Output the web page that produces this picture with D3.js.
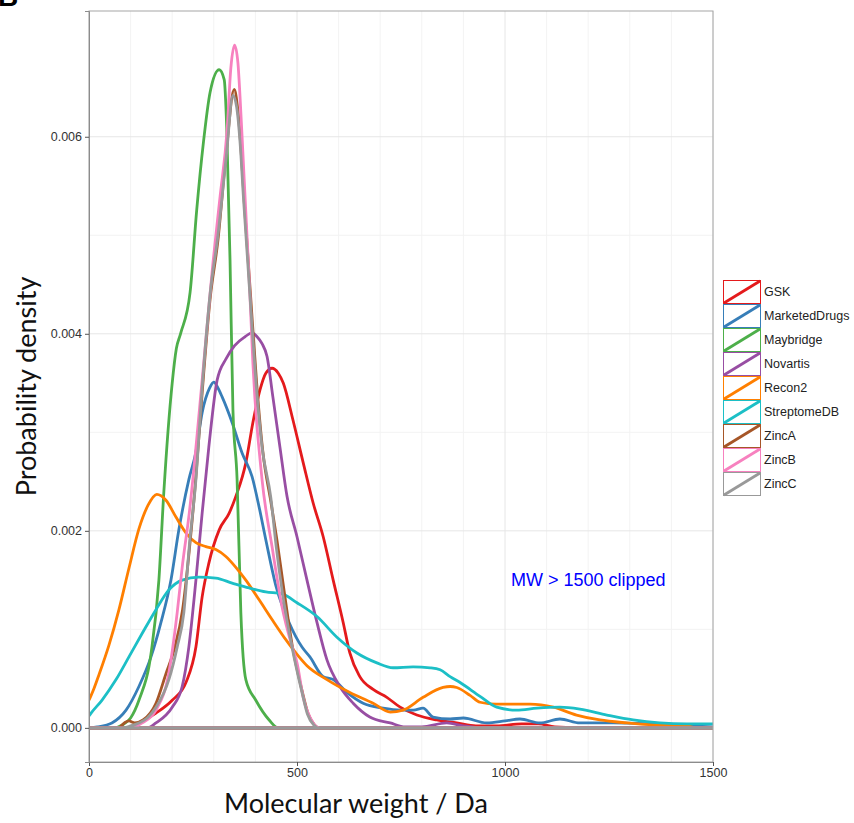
<!DOCTYPE html>
<html>
<head>
<meta charset="utf-8">
<script src="https://cdnjs.cloudflare.com/ajax/libs/d3/7.8.5/d3.min.js"></script>
<style>
  body { margin: 0; background: #fff; }
</style>
</head>
<body>
<script>

// series names (legend order = draw order)
var seriesNames = ["GSK", "MarketedDrugs", "Maybridge", "Novartis", "Recon2",
                   "StreptomeDB", "ZincA", "ZincB", "ZincC"];

// [molecular weight (Da), density x 1e-3]
var gsk = [[0,0],[90,0],[120,0.05],[161,0.15],[200,0.28],[233,0.46],[257,0.82],[272,1.33],[288,1.67],
  [313,2.01],[337,2.18],[353,2.35],[377,2.69],[394,3.1],[411,3.43],[425,3.6],[440,3.65],[455,3.6],
  [467,3.5],[490,3.13],[515,2.69],[539,2.28],[563,1.94],[587,1.5],[611,1.07],[627,0.76],[651,0.52],
  [683,0.39],[716,0.31],[748,0.21],[788,0.13],[836,0.08],[884,0.05],[930,0.02],[980,0.02],[1040,0.04],
  [1080,0.04],[1120,0.01],[1200,0],[1500,0]];

var marketedDrugs = [[0,0],[20,0.01],[55,0.05],[89,0.18],[120,0.42],[149,0.72],[173,1.07],[197,1.5],
  [216,2.01],[240,2.52],[257,2.8],[272,3.2],[290,3.45],[300,3.51],[310,3.45],[320,3.36],[344,3.1],
  [368,2.79],[392,2.55],[409,2.24],[425,1.91],[450,1.43],[481,1.07],[512,0.82],[531,0.72],[563,0.52],
  [587,0.49],[620,0.36],[659,0.25],[707,0.2],[748,0.18],[780,0.18],[803,0.2],[827,0.11],[868,0.09],
  [900,0.1],[956,0.05],[1000,0.07],[1036,0.09],[1084,0.05],[1132,0.09],[1180,0.05],[1260,0.05],
  [1350,0.04],[1450,0.02],[1500,0.01]];

var maybridge = [[0,0],[60,0],[80,0.03],[100,0.1],[120,0.28],[150,0.78],[168,1.5],[180,2.4],[200,3.5],
  [210,3.85],[220,4.0],[243,4.42],[259,5.26],[275,5.94],[291,6.45],[313,6.68],[325,6.58],[331,6.1],
  [339,4.75],[346,3.23],[356,2.52],[365,1.17],[377,0.49],[401,0.28],[433,0.08],[455,0],[1500,0]];

var novartis = [[0,0],[140,0],[161,0.05],[200,0.21],[224,0.42],[240,0.82],[257,1.5],[272,2.18],[288,2.85],
  [308,3.53],[330,3.75],[350,3.88],[375,3.97],[392,4.01],[404,3.97],[416,3.9],[428,3.77],[442,3.36],
  [459,2.85],[476,2.35],[500,1.94],[524,1.5],[548,1.07],[572,0.69],[603,0.42],[635,0.25],[675,0.11],
  [724,0.05],[760,0.01],[800,0.01],[860,0.05],[900,0.02],[950,0],[1500,0]];

var recon2 = [[0,0.28],[12,0.4],[24,0.54],[48,0.84],[72,1.2],[96,1.62],[120,2.02],[142,2.26],[163,2.37],
  [185,2.31],[209,2.14],[233,1.98],[257,1.88],[281,1.84],[305,1.81],[329,1.74],[353,1.63],[377,1.5],
  [409,1.3],[440,1.1],[474,0.89],[505,0.72],[524,0.63],[572,0.49],[627,0.36],[683,0.25],[724,0.16],
  [755,0.18],[803,0.31],[851,0.41],[868,0.42],[884,0.41],[916,0.33],[940,0.26],[980,0.24],[1060,0.24],
  [1116,0.21],[1172,0.13],[1228,0.08],[1293,0.05],[1356,0.03],[1437,0.02],[1460,0],[1500,0]];

var streptomeDB = [[0,0.12],[5,0.15],[31,0.28],[65,0.49],[96,0.72],[128,0.96],[161,1.2],[192,1.4],
  [224,1.5],[264,1.53],[305,1.52],[344,1.47],[385,1.42],[425,1.38],[464,1.36],[500,1.27],[548,1.13],
  [596,0.92],[644,0.76],[692,0.66],[731,0.61],[779,0.62],[820,0.61],[844,0.59],[868,0.52],[892,0.46],
  [940,0.32],[980,0.21],[1028,0.18],[1077,0.2],[1132,0.21],[1180,0.19],[1245,0.13],[1308,0.08],
  [1372,0.05],[1437,0.04],[1500,0.04]];

var zincA = [[0,0],[70,0],[85,0.05],[96,0.07],[110,0.05],[130,0.08],[161,0.25],[185,0.55],[205,0.8],
  [225,1.2],[241,1.8],[257,2.55],[272,3.4],[291,4.35],[310,4.95],[330,5.85],[349,6.48],[357,6.3],
  [365,5.9],[373,5.35],[389,4.35],[403,3.5],[418,2.8],[437,2.3],[452,1.9],[467,1.45],[488,0.85],
  [512,0.38],[527,0.14],[542,0.03],[552,0],[1500,0]];

var zincB = [[0,0],[100,0],[128,0.05],[161,0.18],[192,0.56],[212,1.17],[224,1.63],[241,2.18],[272,3.53],
  [283,4.04],[298,4.72],[315,5.39],[332,6.07],[341,6.7],[350,6.93],[358,6.75],[363,6.41],[371,5.74],
  [379,5.06],[387,4.38],[394,3.7],[416,2.52],[440,1.84],[464,1.23],[490,0.8],[500,0.66],[515,0.31],
  [539,0.05],[555,0],[1500,0]];

var zincC = [[0,0],[80,0],[100,0.02],[120,0.05],[140,0.1],[161,0.21],[192,0.49],[212,0.82],[228,1.17],
  [241,1.84],[257,2.52],[272,3.45],[291,4.4],[310,5.0],[330,5.8],[346,6.42],[355,6.3],[363,5.95],
  [371,5.4],[387,4.38],[401,3.53],[416,2.85],[437,2.34],[450,1.84],[465,1.37],[488,0.82],[512,0.36],
  [525,0.14],[540,0.03],[550,0],[1500,0]];

var xTicks = [0, 500, 1000, 1500];
var yTicks = [0, 0.002, 0.004, 0.006];
var xMinor = [100, 200, 300, 400, 600, 700, 800, 900, 1100, 1200, 1300, 1400];
var yMinor = [0.001, 0.003, 0.005];

var allSeries = [gsk, marketedDrugs, maybridge, novartis, recon2, streptomeDB, zincA, zincB, zincC];

var svgWidth = 854;
var svgHeight = 823;

var margin = {
    top : 11,
    right : 141,
    bottom : 61,
    left : 89
};

var width = svgWidth - margin.left - margin.right;
var height = svgHeight - margin.top - margin.bottom;

var svg = d3.select("body")
            .append("svg")
            .attr("width", svgWidth)
            .attr("height", svgHeight)
            .style("font-family", "'Liberation Sans', Arial, sans-serif");

var chartGroup = svg.append("g")
            .attr("transform", `translate(${margin.left}, ${margin.top})`);

var color = d3.scaleOrdinal()
            .domain(seriesNames)
            .range(["#e41a1c", "#377eb8", "#4daf4a", "#984ea3", "#ff7f00",
                    "#1cbfc6", "#a65628", "#f781bf", "#999999"]);

var densityMax = d3.max(allSeries, s => d3.max(s, d => d[1])) / 1000;
var pad = densityMax * 0.05;

var xScale = d3.scaleLinear()
            .domain([0, 1500])
            .range([0, width]);

var yScale = d3.scaleLinear()
            .domain([-pad, densityMax + pad])
            .range([height, 0]);

// grid
chartGroup.selectAll(".xminor")
    .data(xMinor).enter().append("line")
    .attr("x1", d => xScale(d)).attr("x2", d => xScale(d))
    .attr("y1", 0).attr("y2", height)
    .attr("stroke", "#f3f3f3").attr("stroke-width", 1);

chartGroup.selectAll(".yminor")
    .data(yMinor).enter().append("line")
    .attr("x1", 0).attr("x2", width)
    .attr("y1", d => yScale(d)).attr("y2", d => yScale(d))
    .attr("stroke", "#f3f3f3").attr("stroke-width", 1);

chartGroup.selectAll(".xmajor")
    .data(xTicks).enter().append("line")
    .attr("x1", d => xScale(d)).attr("x2", d => xScale(d))
    .attr("y1", 0).attr("y2", height)
    .attr("stroke", "#e6e6e6").attr("stroke-width", 1);

chartGroup.selectAll(".ymajor")
    .data(yTicks).enter().append("line")
    .attr("x1", 0).attr("x2", width)
    .attr("y1", d => yScale(d)).attr("y2", d => yScale(d))
    .attr("stroke", "#e6e6e6").attr("stroke-width", 1);

// curves
chartGroup.append("clipPath")
    .attr("id", "clip")
    .append("rect")
    .attr("width", width)
    .attr("height", height);

var line = d3.line()
    .x(d => xScale(d[0]))
    .y(d => yScale(d[1] / 1000))
    .curve(d3.curveMonotoneX);

var curveGroup = chartGroup.append("g").attr("clip-path", "url(#clip)");

allSeries.forEach(function(s, i) {
    var base = [[0, 0], [1500, 0]];
    curveGroup.append("path")
        .attr("d", line(s) + line(base))
        .attr("fill", "none")
        .attr("stroke", color(seriesNames[i]))
        .attr("stroke-width", 2.8)
        .attr("stroke-linejoin", "round");
});

// panel border
chartGroup.append("rect")
    .attr("width", width)
    .attr("height", height)
    .attr("fill", "none")
    .attr("stroke", "#a6a6a6")
    .attr("stroke-width", 1);

// axes
var bottomAxis = d3.axisBottom(xScale).tickValues(xTicks).tickSize(4).tickFormat(d3.format("d"));
var leftAxis = d3.axisLeft(yScale).tickValues(yTicks).tickSize(4).tickFormat(d3.format(".3f"));

var xAxisG = chartGroup.append("g")
    .attr("transform", `translate(0, ${height})`)
    .call(bottomAxis);

var yAxisG = chartGroup.append("g")
    .call(leftAxis);

[xAxisG, yAxisG].forEach(function(g) {
    g.select(".domain").attr("stroke", "#8c8c8c");
    g.selectAll(".tick line").attr("stroke", "#555");
    g.selectAll(".tick text")
        .attr("fill", "#333")
        .style("font-size", "12.5px")
        .style("font-family", "'Liberation Sans', Arial, sans-serif");
});
xAxisG.selectAll(".tick text").attr("y", 6);

// annotation
chartGroup.append("text")
    .attr("x", xScale(1200))
    .attr("y", yScale(0.0015))
    .attr("dy", "0.35em")
    .attr("text-anchor", "middle")
    .attr("fill", "#0000ff")
    .style("font-size", "18px")
    .text("MW > 1500 clipped");

// axis titles
svg.append("text")
    .attr("x", 356)
    .attr("y", 813)
    .attr("text-anchor", "middle")
    .style("font-family", "Lato, 'Open Sans', sans-serif")
    .style("font-size", "27px")
    .attr("fill", "#111")
    .text("Molecular weight / Da");

svg.append("text")
    .attr("transform", "rotate(-90)")
    .attr("x", -(margin.top + height / 2))
    .attr("y", 36)
    .attr("text-anchor", "middle")
    .style("font-family", "Lato, 'Open Sans', sans-serif")
    .style("font-size", "27px")
    .attr("fill", "#111")
    .text("Probability density");

// panel letter, cut off at the top as in the figure
svg.append("text")
    .attr("x", -2)
    .attr("y", 6)
    .style("font-size", "28px")
    .style("font-weight", "bold")
    .text("B");

// legend
var legend = svg.append("g")
    .attr("transform", "translate(723, 280)");

var keys = legend.selectAll(".key")
    .data(seriesNames)
    .enter()
    .append("g")
    .attr("transform", (d, i) => `translate(0, ${i * 24})`);

keys.append("rect")
    .attr("x", 0.5).attr("y", 0.5)
    .attr("width", 37).attr("height", 23)
    .attr("fill", "#fff")
    .attr("stroke", d => color(d))
    .attr("stroke-width", 1);

keys.append("line")
    .attr("x1", 1).attr("y1", 23)
    .attr("x2", 37).attr("y2", 1)
    .attr("stroke", d => color(d))
    .attr("stroke-width", 2.8);

keys.append("text")
    .attr("x", 41)
    .attr("y", 12)
    .attr("dy", "0.35em")
    .attr("fill", "#222")
    .style("font-size", "12.5px")
    .text(d => d);

</script>
</body>
</html>
